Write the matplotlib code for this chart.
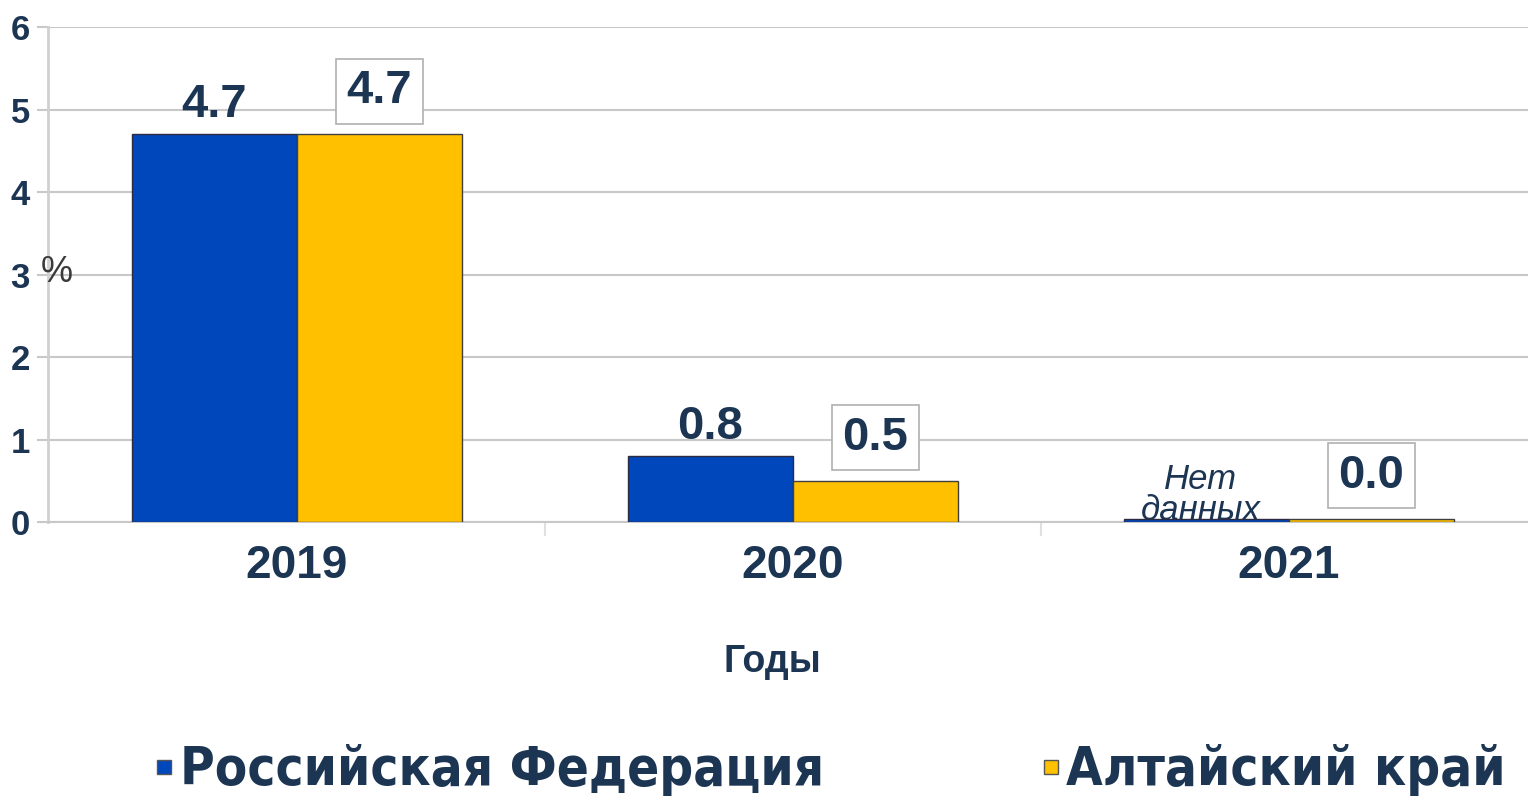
import matplotlib
matplotlib.use("Agg")
import matplotlib.pyplot as plt
from matplotlib.lines import Line2D
from matplotlib.font_manager import FontProperties
import numpy as np

years = ["2019", "2020", "2021"]
rf_values = [4.7, 0.8, 0.04]
altai_values = [4.7, 0.5, 0.04]
rf_labels = ["4.7", "0.8", "Нет\nданных"]
altai_labels = ["4.7", "0.5", "0.0"]
series_names = ["Российская Федерация", "Алтайский край"]
yticks = [0, 1, 2, 3, 4, 5, 6]

BLUE = "#0047BB"
YELLOW = "#FFC000"
NAVY = "#1c3553"
GRID = "#c8c8c8"
ARIAL = ["Liberation Sans", "DejaVu Sans"]

plt.rcParams['font.family'] = ARIAL

fig = plt.figure(figsize=(15.28, 7.97), dpi=100)
ax = fig.add_axes([48/1528, 1-522/797, 1-48/1528, (522-27)/797])

x = np.arange(len(years))
w = 0.333
b1 = ax.bar(x - w/2, rf_values, w, color=BLUE, edgecolor="#2a2a40", linewidth=1.0, zorder=3)
b2 = ax.bar(x + w/2, altai_values, w, color=YELLOW, edgecolor="#404040", linewidth=1.0, zorder=3)

ax.set_xlim(-0.502, 2.482)
ax.set_ylim(0, 6)
ax.set_yticks(yticks)
ax.set_yticklabels([str(t) for t in yticks], fontsize=25, fontweight="bold", color=NAVY)
ax.yaxis.grid(True, color=GRID, linewidth=1.5, zorder=0)
ax.set_axisbelow(True)
ax.tick_params(axis="y", length=8, width=1.5, color=GRID, pad=5)

ax.set_xticks(x)
ax.set_xticklabels(years, fontsize=33, fontweight="bold", color=NAVY)
ax.tick_params(axis="x", length=0, pad=16)
# category separator ticks
ax.set_xticks([0.5, 1.5], minor=True)
ax.tick_params(axis="x", which="minor", length=10, width=1.5, color="#e0e0e0")

for s in ["top", "right"]:
    ax.spines[s].set_visible(False)
ax.spines["left"].set_color("#d0d0d0")
ax.spines["left"].set_linewidth(2)
ax.spines["bottom"].set_color(GRID)
ax.spines["bottom"].set_linewidth(1.5)

# value labels
for i, (bar, lab) in enumerate(zip(b1, rf_labels)):
    cx = bar.get_x() + bar.get_width()/2
    if i == 2:
        ax.annotate(lab, (cx, bar.get_height()), xytext=(-4, 17), textcoords="offset points",
                    ha="center", va="center", fontsize=25, fontstyle="italic",
                    color=NAVY, linespacing=0.95, zorder=2)
    else:
        ax.annotate(lab, (cx, bar.get_height()), xytext=(0, 21), textcoords="offset points",
                    ha="center", va="center", fontsize=34, fontweight="bold", color=NAVY)

for bar, lab in zip(b2, altai_labels):
    cx = bar.get_x() + bar.get_width()/2
    ax.annotate(lab, (cx, bar.get_height()), xytext=(0, 31), textcoords="offset points",
                ha="center", va="center", fontsize=34, fontweight="bold", color=NAVY,
                bbox=dict(boxstyle="square,pad=0.22", facecolor="white", edgecolor="#b0b0b0", linewidth=1.2),
                zorder=5)

fig.text(772/1528, 1-662/797, "Годы", ha="center", va="center", fontsize=27,
         fontweight="bold", color=NAVY)
fig.text(57/1528, 1-273/797, "%", ha="center", va="center", fontsize=26, color="#3a3a3a")

legend_font = FontProperties(family="DejaVu Sans", weight="bold", stretch="condensed", size=38)
handles = [Line2D([], [], marker="s", linestyle="none", markersize=10,
                  markerfacecolor=BLUE, markeredgecolor="#555555"),
           Line2D([], [], marker="s", linestyle="none", markersize=10,
                  markerfacecolor=YELLOW, markeredgecolor="#555555")]
fig.legend(handles, series_names, loc="center left", bbox_to_anchor=(155/1528, 1-770/797),
           ncol=2, frameon=False, handlelength=0.35, handletextpad=0.12, columnspacing=4.12,
           prop=legend_font, labelcolor=NAVY, borderpad=0, borderaxespad=0)

fig.savefig("out.png", dpi=100, facecolor="white")
